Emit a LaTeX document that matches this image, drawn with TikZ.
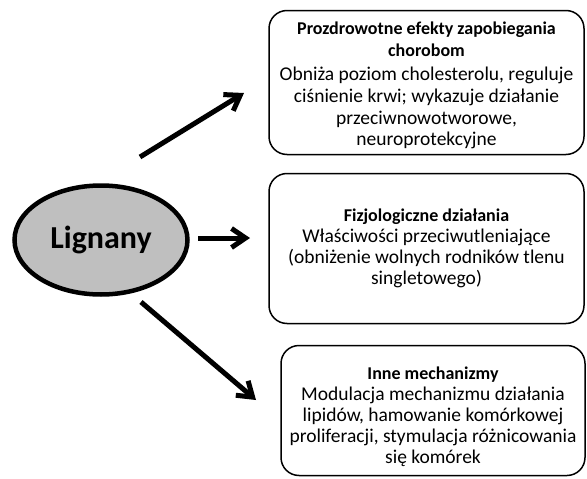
\documentclass[tikz,border=0pt]{standalone}
\usepackage{fontspec}
\setmainfont{Carlito}
\usetikzlibrary{shapes.geometric,arrows.meta}

\tikzset{
	box/.style={draw, rectangle, rounded corners=18pt, line width=1.5pt, align=center, inner sep=0pt, font=\fontsize{19.5}{21}\selectfont},
	arr/.style={line width=5pt, -{Straight Barb[length=14pt,width=19pt]}}
}
\newcommand{\boxtitle}[1]{{\fontsize{18}{21}\selectfont\bfseries #1}}

\begin{document}
\begin{tikzpicture}[x=1pt,y=-1pt]
	\useasboundingbox (0,0) rectangle (587,479);
	\node[draw, ellipse, line width=4.5pt, fill=black!25, minimum width=173pt, minimum height=109pt,
	font=\fontsize{32}{36}\selectfont\bfseries] (L) at (101,240) {Lignany};
	\node[box, minimum width=315pt, minimum height=144pt, font=\fontsize{19.5}{21.8}\selectfont] (PE) at (426.5,82.5)
	{\rule{0pt}{19pt}\boxtitle{Prozdrowotne efekty zapobiegania}\\\boxtitle{chorobom}\\[2pt]
	Obniża poziom cholesterolu, reguluje\\ciśnienie krwi; wykazuje działanie\\
	przeciwnowotworowe,\\neuroprotekcyjne};
	\node[box, minimum width=315pt, minimum height=150pt] (FD) at (426.5,248.5)
	{\boxtitle{Fizjologiczne działania}\\Właściwości przeciwutleniające\\
	(obniżenie wolnych rodników tlenu\\singletowego)};
	\node[box, minimum width=304pt, minimum height=130pt] (IM) at (433,410.5)
	{\rule{0pt}{26pt}\boxtitle{Inne mechanizmy}\\Modulacja mechanizmu działania\\
	lipidów, hamowanie komórkowej\\proliferacji, stymulacja różnicowania\\się komórek};
	
	\coordinate (a1) at (140,157);
	\coordinate (b1) at (244,93);
	\coordinate (a2) at (198,238);
	\coordinate (b2) at (250,238);
	\coordinate (a3) at (141,302);
	\coordinate (b3) at (256,400);
	\draw[arr] (a1) -- (b1);
	\draw[arr] (a2) -- (b2);
	\draw[arr] (a3) -- (b3);
\end{tikzpicture}
\end{document}
